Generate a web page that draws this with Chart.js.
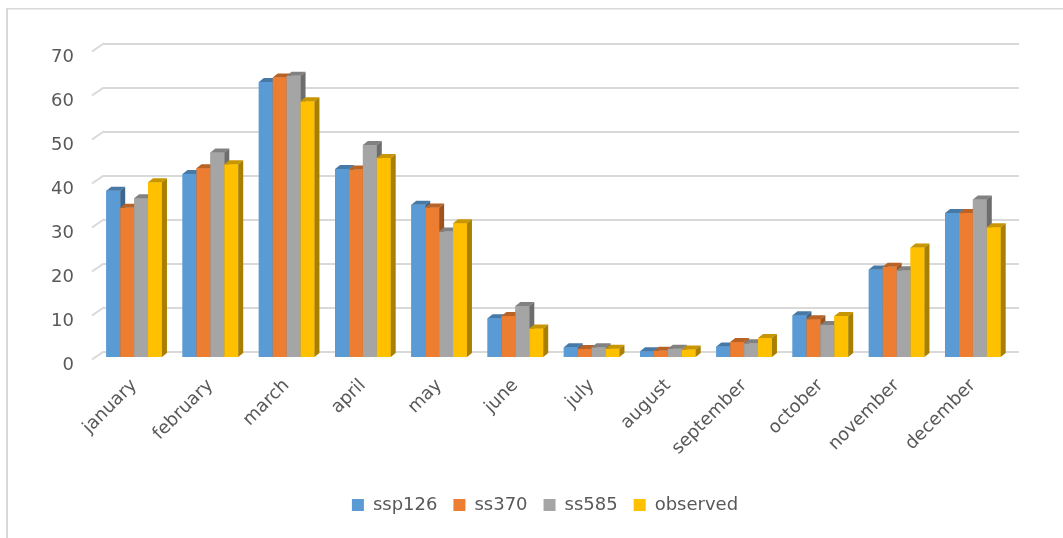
<!DOCTYPE html>
<html>
<head>
<meta charset="utf-8">
<script src="https://cdn.jsdelivr.net/npm/chart.js@4.4.1/dist/chart.umd.min.js"></script>
<style>
  html, body { margin: 0; padding: 0; background: #fff; }
  #wrap { width: 1063px; height: 538px; position: relative; }
</style>
</head>
<body>
<div id="wrap"><canvas id="monthChart"></canvas></div>
<script>
const months = ['january', 'february', 'march', 'april', 'may', 'june', 'july',
  'august', 'september', 'october', 'november', 'december'];
const ssp126 = [37.8, 41.6, 62.5, 42.7, 34.6, 8.8, 2.2, 1.3, 2.4, 9.5, 19.9, 32.7];
const ss370 = [33.9, 42.9, 63.5, 42.6, 34.0, 9.3, 1.8, 1.4, 3.4, 8.6, 20.5, 32.7];
const ss585 = [36.1, 46.5, 63.9, 48.2, 28.5, 11.6, 2.2, 1.9, 3.1, 7.3, 19.7, 35.8];
const observed = [39.7, 43.8, 58.1, 45.2, 30.4, 6.5, 1.9, 1.7, 4.3, 9.3, 24.9, 29.5];
const yTicks = [0, 10, 20, 30, 40, 50, 60, 70];

const textColor = '#595959';
const font = { family: '"DejaVu Sans", sans-serif', size: 18 };

// darken a hex colour by factor f
function shade(hex, f) {
  const n = parseInt(hex.slice(1), 16);
  const r = Math.round(((n >> 16) & 255) * f);
  const g = Math.round(((n >> 8) & 255) * f);
  const b = Math.round((n & 255) * f);
  return 'rgb(' + r + ',' + g + ',' + b + ')';
}

// fake Excel-style 3D columns: back wall gridlines + top/side faces
const depth = { dx: 5, dy: 4 };
const bars3d = {
  id: 'bars3d',
  afterLayout(chart) {
    // legend sits a bit right of centre, like the original
    if (chart.legend) chart.legend.left = 79;
  },
  beforeDraw(chart) {
    const ctx = chart.ctx;
    ctx.save();
    ctx.fillStyle = '#d9d9d9';
    ctx.fillRect(7, 8, chart.width - 7, 1.5);
    ctx.fillRect(6, 8, 2, chart.height - 8);
    ctx.restore();
  },
  beforeDatasetsDraw(chart) {
    const { ctx, chartArea } = chart;
    const y = chart.scales.y;
    ctx.save();
    ctx.strokeStyle = '#d9d9d9';
    ctx.lineWidth = 2;
    y.ticks.forEach(t => {
      const py = y.getPixelForValue(t.value);
      ctx.beginPath();
      ctx.moveTo(chartArea.left - 4, py + 2.5);
      ctx.lineTo(chartArea.left + 7, py - 5);
      ctx.lineTo(chartArea.right + 8, py - 5);
      ctx.stroke();
    });
    ctx.restore();
  },
  afterDatasetsDraw(chart) {
    const ctx = chart.ctx;
    ctx.save();
    chart.data.datasets.forEach((ds, i) => {
      const meta = chart.getDatasetMeta(i);
      meta.data.forEach(bar => {
        const { x, y, base, width } = bar.getProps(['x', 'y', 'base', 'width'], true);
        const l = x - width / 2, r = x + width / 2;
        ctx.fillStyle = ds.backgroundColor;
        ctx.fillRect(l, y, width, base - y);
        // top face
        ctx.fillStyle = shade(ds.backgroundColor, 0.78);
        ctx.beginPath();
        ctx.moveTo(l, y);
        ctx.lineTo(l + depth.dx, y - depth.dy);
        ctx.lineTo(r + depth.dx, y - depth.dy);
        ctx.lineTo(r, y);
        ctx.closePath();
        ctx.fill();
        // side face
        ctx.fillStyle = shade(ds.backgroundColor, 0.66);
        ctx.beginPath();
        ctx.moveTo(r, y);
        ctx.lineTo(r + depth.dx, y - depth.dy);
        ctx.lineTo(r + depth.dx, base - depth.dy);
        ctx.lineTo(r, base);
        ctx.closePath();
        ctx.fill();
      });
    });
    ctx.restore();
  }
};

const ctx = document.getElementById('monthChart').getContext('2d');

const data = {
  labels: months,
  datasets: [
    { label: 'ssp126', data: ssp126, backgroundColor: '#5B9BD5' },
    { label: 'ss370', data: ss370, backgroundColor: '#ED7D31' },
    { label: 'ss585', data: ss585, backgroundColor: '#A5A5A5' },
    { label: 'observed', data: observed, backgroundColor: '#FFC000' }
  ]
};

const config = {
  type: 'bar',
  data: data,
  plugins: [bars3d],
  options: {
    responsive: true,
    maintainAspectRatio: false,
    animation: false,
    layout: { padding: { top: 49, right: 52, bottom: 14, left: 0 } },
    datasets: {
      bar: { categoryPercentage: 0.73, barPercentage: 1 }
    },
    scales: {
      x: {
        grid: { display: false, drawTicks: false },
        border: { display: false },
        ticks: {
          color: textColor, font: font, autoSkip: false,
          minRotation: 45, maxRotation: 45, padding: 18
        },
        afterFit(scale) { scale.height = 123; }
      },
      y: {
        min: 0,
        max: 70,
        grid: { display: false, drawTicks: false },
        border: { display: false },
        afterBuildTicks(scale) { scale.ticks = yTicks.map(v => ({ value: v })); },
        ticks: { color: textColor, font: font, padding: 22, labelOffset: 8 },
        afterFit(scale) { scale.width = 96; }
      }
    },
    plugins: {
      legend: {
        position: 'bottom',
        labels: { color: textColor, font: font, boxWidth: 12, boxHeight: 12, padding: 16 }
      },
      tooltip: { enabled: false }
    }
  }
};

new Chart(ctx, config);
</script>
</body>
</html>
